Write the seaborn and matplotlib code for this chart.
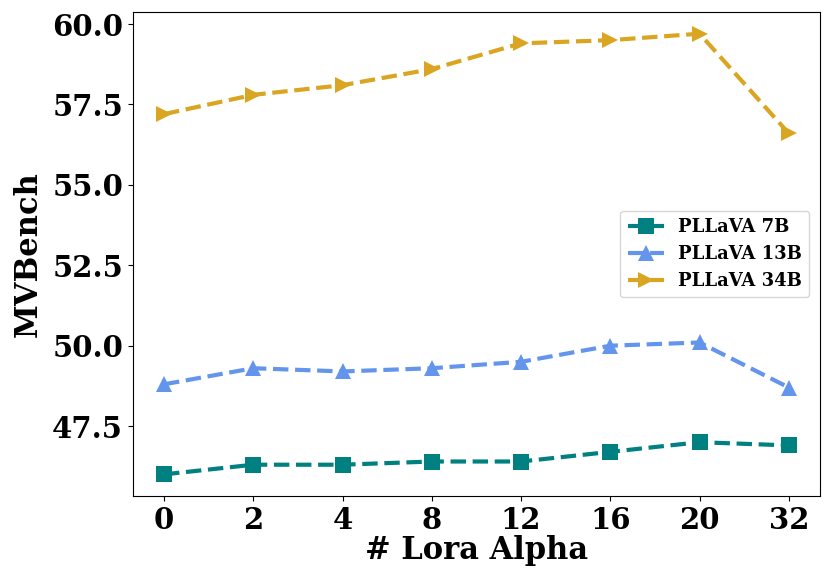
import pandas as pd
import matplotlib
matplotlib.use("Agg")
import matplotlib.pyplot as plt
import seaborn as sns

# Values
lora_alpha = ["0", "2", "4", "8", "12", "16", "20", "32"]
pllava_7b = [46.0, 46.3, 46.3, 46.4, 46.4, 46.7, 47.0, 46.9]
pllava_13b = [48.8, 49.3, 49.2, 49.3, 49.5, 50.0, 50.1, 48.7]
pllava_34b = [57.2, 57.8, 58.1, 58.6, 59.4, 59.5, 59.7, 56.6]

series = [
    ("PLLaVA 7B", pllava_7b, "teal", "s"),
    ("PLLaVA 13B", pllava_13b, "cornflowerblue", "^"),
    ("PLLaVA 34B", pllava_34b, "goldenrod", ">"),
]

sns.set_style("ticks")
plt.rcParams["font.family"] = ["DejaVu Serif"]
plt.rcParams["font.weight"] = "bold"
plt.rcParams["text.color"] = "black"
plt.rcParams["axes.labelcolor"] = "black"
plt.rcParams["xtick.color"] = "black"
plt.rcParams["ytick.color"] = "black"
plt.rcParams["axes.edgecolor"] = "black"

fig, ax = plt.subplots(figsize=(8.3, 5.84), dpi=100)
for name, vals, color, marker in series:
    df = pd.DataFrame({"alpha": lora_alpha, "score": vals})
    sns.lineplot(data=df, x="alpha", y="score", ax=ax, color=color,
                 marker=marker, markersize=11, markeredgewidth=0,
                 linestyle="--", linewidth=3, label=name)

ax.set_xlabel("# Lora Alpha", fontsize=22, fontweight="bold", labelpad=0)
ax.set_ylabel("MVBench", fontsize=22, fontweight="bold", labelpad=6)
ax.tick_params(axis="both", labelsize=21, colors="black")
for lab in ax.get_xticklabels() + ax.get_yticklabels():
    lab.set_fontweight("bold")
ax.set_yticks([47.5, 50.0, 52.5, 55.0, 57.5, 60.0])
ax.yaxis.set_major_formatter(matplotlib.ticker.FormatStrFormatter("%.1f"))
ax.margins(x=0.05, y=0.05)

leg = ax.legend(loc="center right", prop={"size": 13, "weight": "bold"},
                borderaxespad=0.6)

fig.subplots_adjust(left=0.16, right=0.988, top=0.98, bottom=0.15)
fig.savefig("out.png", dpi=100)
